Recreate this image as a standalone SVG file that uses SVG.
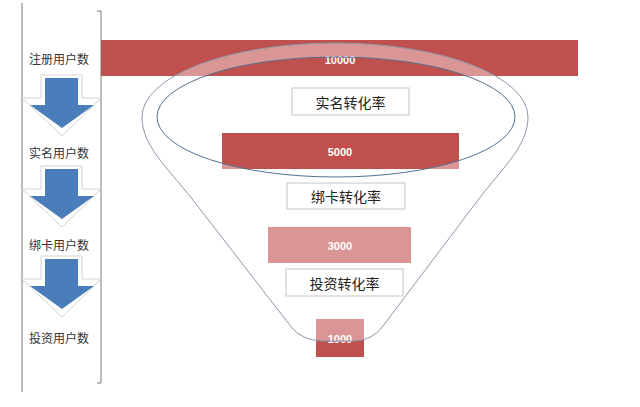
<svg xmlns="http://www.w3.org/2000/svg" width="640" height="407" viewBox="0 0 640 407">
<defs>
<style>
.lbl{font-family:"Noto Sans CJK SC","Liberation Sans",sans-serif;font-size:12px;fill:#333;text-anchor:middle;dominant-baseline:central}
.box rect{fill:#fff;stroke:#c4c4c4;stroke-width:1}
.box text{font-family:"Noto Sans CJK SC","Liberation Sans",sans-serif;font-size:14px;fill:#222;text-anchor:middle;dominant-baseline:central}
.num{font-family:"Liberation Sans",Arial,sans-serif;font-size:11px;font-weight:bold;fill:#fff;text-anchor:middle;dominant-baseline:central}
.bar{fill:#c0504d}
.arrow{fill:#4a7ebb}
.bevel{fill:#fff;stroke:#d2d2d2;stroke-width:1}
.frame{fill:none;stroke:#7a7a7a;stroke-width:1}
</style>
<g id="arrowShape">
<polygon class="bevel" points="41,75 82,75 82,98 101,98 62,136 22,98 41,98"/>
<polygon class="arrow" points="45,78 78,78 78,105 94,105 62,128 30,105 45,105"/>
</g>
</defs>
<rect width="640" height="407" fill="#fff"/>
<g id="frame">
<line class="frame" x1="22" y1="3" x2="22" y2="392"/>
<path class="frame" d="M97,11 H101 V383 H97"/>
</g>
<g id="connectors">
<use href="#arrowShape"/>
<use href="#arrowShape" y="91"/>
<use href="#arrowShape" y="181"/>
</g>
<g id="label-reg"><text class="lbl" x="59" y="58">注册用户数</text></g>
<g id="label-real"><text class="lbl" x="59" y="152">实名用户数</text></g>
<g id="label-card"><text class="lbl" x="59" y="244">绑卡用户数</text></g>
<g id="label-invest"><text class="lbl" x="59" y="337">投资用户数</text></g>
<g id="bar-10000">
<rect class="bar" x="101" y="40" width="477" height="36"/>
<text class="num" x="340" y="60">10000</text>
</g>
<g id="bar-5000">
<rect class="bar" x="222" y="133" width="237" height="36"/>
<text class="num" x="340" y="152">5000</text>
</g>
<g id="bar-3000">
<rect class="bar" x="268" y="227" width="143" height="36"/>
<text class="num" x="340" y="246">3000</text>
</g>
<g id="bar-1000">
<rect class="bar" x="316" y="319" width="48" height="38"/>
<text class="num" x="340" y="339">1000</text>
</g>
<g id="funnel">
<path fill="#fff" fill-opacity="0.4" fill-rule="evenodd" stroke="none" d="M142,117 A193,74 0 0 1 528,117 C528,145 505,165 478,200 L383,326 Q373,340 355,341 L322,341 Q302,340 292,328 L193,200 C165,165 142,145 142,117 Z M157,117 A179,60 0 0 0 515,117 A179,60 0 0 0 157,117 Z"/>
<path fill="none" stroke="#8a98a8" stroke-width="1" d="M142,117 A193,74 0 0 1 528,117 C528,145 505,165 478,200 L383,326 Q373,340 355,341 L322,341 Q302,340 292,328 L193,200 C165,165 142,145 142,117 Z"/>
<ellipse cx="336" cy="117" rx="179" ry="60" fill="none" stroke="#54708c" stroke-width="1"/>
</g>
<g id="box-real" class="box">
<rect x="292" y="88" width="117" height="27"/>
<text x="350.5" y="101.5">实名转化率</text>
</g>
<g id="box-card" class="box">
<rect x="287" y="183" width="118" height="26"/>
<text x="346" y="196">绑卡转化率</text>
</g>
<g id="box-invest" class="box">
<rect x="286" y="269" width="117" height="27"/>
<text x="344.5" y="282.5">投资转化率</text>
</g>
</svg>
